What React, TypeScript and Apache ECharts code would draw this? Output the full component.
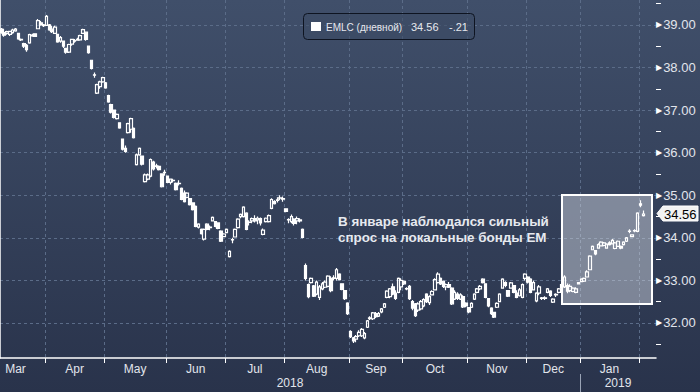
import React, { useEffect, useRef } from "react";
import * as echarts from "echarts";

// [open, close, low, high] per trading day
const mar = [[38.90,38.82,38.79,38.93],[38.82,38.76,38.72,38.91],[38.80,38.84,38.77,38.86],[38.78,38.85,38.74,38.86],[38.82,38.88,38.79,38.91],[38.86,38.90,38.84,38.93],[38.80,38.67,38.65,38.81],[38.66,38.65,38.62,38.68],[38.56,38.50,38.46,38.58],[38.52,38.42,38.37,38.55],[38.58,38.77,38.56,38.79],[38.76,38.74,38.72,38.79],[38.79,38.73,38.72,38.80],[38.91,39.10,38.90,39.14],[39.05,39.00,38.98,39.09],[38.98,39.00,38.95,39.02]];
const apr = [[38.99,39.20,38.98,39.23],[39.00,38.88,38.86,39.02],[38.90,38.84,38.81,38.98],[38.80,38.95,38.79,38.98],[38.78,38.60,38.58,38.79],[38.62,38.70,38.58,38.74],[38.62,38.50,38.46,38.63],[38.45,38.36,38.32,38.46],[38.36,38.54,38.34,38.56],[38.55,38.66,38.51,38.67],[38.62,38.63,38.58,38.67],[38.64,38.66,38.63,38.70],[38.65,38.75,38.63,38.77],[38.80,38.89,38.79,38.91],[38.83,38.66,38.63,38.84],[38.50,38.35,38.32,38.51],[38.17,37.98,37.95,38.18],[37.83,37.82,37.76,37.88],[37.40,37.60,37.38,37.62],[37.55,37.66,37.50,37.69],[37.66,37.76,37.64,37.78]];
const may = [[37.64,37.52,37.50,37.66],[37.34,37.19,37.17,37.36],[37.13,36.95,36.92,37.15],[37.00,36.83,36.80,37.01],[36.80,36.90,36.78,36.92],[36.70,36.58,36.56,36.71],[36.32,36.08,36.05,36.33],[36.10,36.03,36.00,36.17],[36.47,36.68,36.45,36.70],[36.55,36.80,36.47,36.82],[36.57,36.35,36.33,36.59],[35.72,35.95,35.70,35.98],[35.95,36.10,35.93,36.12],[35.92,35.73,35.70,35.93],[35.32,35.48,35.30,35.51],[35.38,35.48,35.35,35.51],[35.45,35.84,35.42,35.86],[35.78,35.62,35.58,35.81],[35.68,35.69,35.63,35.74],[35.68,35.60,35.58,35.70],[35.50,35.20,35.18,35.51],[35.53,35.54,35.46,35.60]];
const jun = [[35.45,35.30,35.28,35.46],[35.30,35.38,35.25,35.39],[35.34,35.35,35.30,35.39],[35.28,35.13,35.11,35.30],[35.27,35.28,35.23,35.35],[35.16,34.90,34.88,35.18],[35.05,34.85,34.83,35.11],[34.95,35.05,34.93,35.07],[34.92,34.78,34.76,34.93],[34.82,34.66,34.64,34.83],[34.74,34.27,34.25,34.76],[34.25,34.32,34.22,34.34],[34.20,34.10,34.08,34.22],[33.97,34.20,33.94,34.22],[34.32,34.20,34.18,34.34],[34.24,34.25,34.18,34.29],[34.40,34.48,34.39,34.50],[34.38,34.27,34.25,34.39],[34.35,34.22,34.20,34.36],[34.16,33.92,33.90,34.18],[34.03,34.09,34.02,34.11]];
const jul = [[34.12,34.20,34.11,34.22],[33.56,33.68,33.54,33.71],[33.95,33.96,33.87,34.00],[34.02,34.20,34.02,34.22],[34.24,34.44,34.22,34.46],[34.50,34.55,34.46,34.57],[34.50,34.72,34.48,34.74],[34.58,34.20,34.18,34.60],[34.36,34.37,34.29,34.41],[34.40,34.45,34.34,34.48],[34.45,34.40,34.36,34.53],[34.42,34.46,34.32,34.50],[34.45,34.35,34.29,34.48],[34.08,34.18,34.06,34.22],[34.38,34.46,34.36,34.48],[34.38,34.52,34.36,34.55],[34.69,34.90,34.67,34.93],[34.85,34.80,34.78,34.88],[34.88,34.89,34.83,34.95],[34.93,34.94,34.88,35.00],[34.91,34.92,34.85,34.97]];
const aug = [[34.68,34.62,34.60,34.69],[34.43,34.42,34.34,34.46],[34.38,34.50,34.34,34.55],[34.44,34.34,34.29,34.46],[34.40,34.45,34.32,34.50],[34.42,34.40,34.36,34.46],[34.20,34.01,33.99,34.22],[33.35,33.05,33.00,33.40],[32.90,32.62,32.58,32.93],[32.95,33.05,32.93,33.07],[32.87,32.63,32.61,32.89],[32.68,32.96,32.65,33.00],[32.60,32.85,32.54,32.89],[32.80,32.92,32.77,32.96],[32.84,32.96,32.82,33.00],[32.86,33.10,32.84,33.12],[33.05,32.76,32.72,33.10],[33.05,33.06,33.00,33.12],[33.05,33.25,33.00,33.29],[33.15,33.02,33.00,33.17],[32.92,32.79,32.77,32.93],[32.76,32.57,32.54,32.77],[32.47,32.22,32.19,32.49]];
const sep = [[31.80,31.68,31.65,31.83],[31.65,31.58,31.53,31.67],[31.62,31.68,31.55,31.72],[31.70,31.78,31.67,31.83],[31.70,31.85,31.67,31.88],[31.65,31.75,31.62,31.79],[31.90,32.05,31.88,32.07],[32.12,32.10,32.07,32.16],[32.10,32.24,32.07,32.26],[32.22,32.15,32.12,32.26],[32.16,32.22,32.14,32.26],[32.26,32.33,32.23,32.35],[32.37,32.45,32.35,32.47],[32.60,32.75,32.58,32.77],[32.62,32.80,32.58,32.82],[32.85,32.68,32.65,32.93],[32.70,32.58,32.54,32.77],[32.72,33.05,32.70,33.07],[32.85,33.00,32.77,33.05]];
const oct = [[32.98,32.92,32.89,33.00],[32.80,32.81,32.77,32.84],[32.86,32.57,32.54,32.89],[32.50,32.35,32.30,32.54],[32.45,32.17,32.14,32.47],[32.30,32.45,32.26,32.49],[32.33,32.50,32.30,32.54],[32.40,32.55,32.37,32.58],[32.68,32.50,32.47,32.70],[32.48,32.62,32.42,32.65],[32.66,32.74,32.65,32.77],[32.78,33.02,32.77,33.05],[32.95,33.15,32.93,33.19],[33.05,32.92,32.89,33.07],[32.98,32.86,32.82,33.00],[32.85,32.90,32.77,32.93],[32.90,32.84,32.82,32.96],[32.82,32.45,32.42,32.84],[32.56,32.72,32.54,32.77],[32.68,32.58,32.54,32.72],[32.56,32.66,32.54,32.70],[32.62,32.38,32.35,32.65],[32.47,32.40,32.37,32.49]];
const nov = [[32.36,32.26,32.23,32.37],[32.37,32.46,32.35,32.49],[32.56,32.68,32.54,32.70],[32.72,32.80,32.70,32.82],[32.80,32.86,32.77,32.89],[33.03,32.95,32.93,33.05],[32.92,32.60,32.58,32.93],[32.57,32.40,32.37,32.58],[32.35,32.22,32.19,32.37],[32.25,32.14,32.12,32.26],[32.37,32.46,32.35,32.49],[32.50,32.68,32.49,32.70],[32.82,33.03,32.82,33.05],[32.95,32.88,32.84,32.98],[32.76,32.63,32.61,32.77],[32.82,32.94,32.82,32.96],[32.88,32.72,32.70,32.89],[32.70,32.60,32.58,32.77],[32.64,32.78,32.62,32.82],[32.60,32.90,32.58,32.93],[33.05,33.15,33.00,33.17]];
const dec = [[33.08,32.96,32.93,33.10],[33.03,32.72,32.70,33.05],[32.78,32.95,32.77,33.00],[32.52,32.70,32.49,32.72],[32.70,32.85,32.65,32.89],[32.58,32.59,32.54,32.61],[32.59,32.58,32.54,32.63],[32.72,32.80,32.70,32.82],[32.75,32.65,32.61,32.77],[32.49,32.56,32.47,32.58],[32.66,32.67,32.61,32.70],[32.72,32.80,32.70,32.82],[32.82,32.90,32.77,32.93],[32.85,33.08,32.82,33.12],[32.88,32.75,32.70,32.93],[32.76,32.86,32.72,32.91],[32.74,32.82,32.72,32.84],[32.72,32.80,32.70,32.84],[32.92,32.95,32.91,32.96]];
const jan = [[32.97,33.03,32.96,33.05],[32.98,33.05,32.96,33.07],[33.08,33.20,33.07,33.24],[33.25,33.57,33.24,33.59],[33.72,33.80,33.71,33.82],[33.70,33.62,33.59,33.71],[33.76,33.84,33.75,33.87],[33.81,33.90,33.80,33.92],[33.82,33.88,33.80,33.90],[33.76,33.85,33.75,33.87],[33.88,33.84,33.82,33.92],[33.86,33.94,33.85,33.97],[33.75,33.88,33.73,33.90],[33.80,33.92,33.80,33.94],[33.80,33.76,33.73,33.82],[33.84,33.90,33.82,33.92],[33.92,34.00,33.90,34.02],[34.15,34.16,34.11,34.20],[34.03,34.07,34.02,34.08],[34.16,34.17,34.13,34.20],[34.15,34.58,34.13,34.60]];
const feb = [[34.80,34.77,34.72,34.88],[34.52,34.56,34.50,34.64]];

// month labels and their trading-day boundaries (index of first trading day)
const monthNames = ["Mar", "Apr", "May", "Jun", "Jul", "Aug", "Sep", "Oct", "Nov", "Dec", "Jan"];
const monthBounds = [-5, 16, 37, 59, 80, 101, 124, 143, 166, 187, 206, 227];
const yearLabels = ["2018", "2019"];
const yLabelValues = [32, 33, 34, 35, 36, 37, 38, 39];
const yHalfTicks = [31.5, 32.5, 33.5, 34.5, 35.5, 36.5, 37.5, 38.5, 39.5];
const seriesName = "EMLC (дневной)";
const noteLines = ["В январе наблюдался сильный", "спрос на локальные бонды EM"];
const totalSlots = 233;
const Y_MIN = 31.178;
const Y_MAX = 39.585;

export default function App() {
  const ref = useRef<HTMLDivElement>(null);

  useEffect(() => {
    if (!ref.current) return;
    const chart = echarts.init(ref.current, null, { renderer: "svg" });
    const candles = [...mar, ...apr, ...may, ...jun, ...jul, ...aug, ...sep, ...oct, ...nov, ...dec, ...jan, ...feb];
    const cats = Array.from({ length: totalSlots }, (_, i) => String(i));
    const starts = monthBounds.slice(1);
    const centers = monthNames.map((_, i) => (monthBounds[i] + monthBounds[i + 1]) / 2);
    const last = candles[candles.length - 1][1];
    const prev = candles[candles.length - 2][1];
    const chg = last - prev;
    const chgText = (chg < 0 ? "-" : "+") + Math.abs(chg).toFixed(2).replace(/^0/, "");

    const font = "'Liberation Sans', Arial, sans-serif";
    const labelColor = "#e2e5ec";
    const gridColor = "#5b6c88";

    const option: any = {
      animation: false,
      backgroundColor: {
        type: "linear", x: 0, y: 0, x2: 0, y2: 1,
        colorStops: [
          { offset: 0, color: "#404f6a" },
          { offset: 1, color: "#29334b" },
        ],
      },
      grid: { left: 0, right: 44, top: -1, bottom: 34 },
      xAxis: [
        {
          type: "category",
          data: cats,
          boundaryGap: true,
          show: false,
        },
        {
          type: "value",
          min: 0,
          max: totalSlots,
          position: "bottom",
          axisLine: { show: true, onZero: false, lineStyle: { color: "#ffffff", width: 1.5 } },
          axisTick: { show: true, customValues: starts, length: 5, lineStyle: { color: "#ffffff", width: 1 } },
          splitLine: { show: true, lineStyle: { color: gridColor, type: [3, 3], width: 1 } },
          axisLabel: {
            customValues: centers,
            formatter: (v: number) => {
              const k = centers.findIndex((c) => Math.abs(c - v) < 1e-6);
              return k >= 0 ? monthNames[k] : "";
            },
            color: labelColor,
            fontSize: 12,
            fontFamily: font,
            margin: 5,
          },
        },
      ],
      yAxis: [
        {
          type: "value",
          position: "right",
          min: Y_MIN,
          max: Y_MAX,
          scale: true,
          axisLine: { show: true, lineStyle: { color: "#ffffff", width: 1.5 } },
          axisTick: { show: true, customValues: yLabelValues, length: 0 },
          splitLine: { show: true, lineStyle: { color: gridColor, type: [3, 3], width: 1 } },
          axisLabel: {
            customValues: yLabelValues,
            margin: 0,
            formatter: (v: number) => `{t|▶}{v|${v.toFixed(2)}}`,
            rich: {
              t: { fontSize: 8, color: "#ffffff", fontFamily: "'DejaVu Sans'", padding: [0, 1, 0, 0] },
              v: { fontSize: 13, color: labelColor, fontFamily: font },
            },
          },
        },
        {
          type: "value",
          position: "right",
          min: Y_MIN,
          max: Y_MAX,
          axisLine: { show: false },
          axisTick: { show: true, customValues: yHalfTicks, length: 5, lineStyle: { color: "#ffffff", width: 1 } },
          splitLine: { show: false },
          axisLabel: { show: false },
        },
      ],
      series: [
        {
          type: "candlestick",
          xAxisIndex: 0,
          yAxisIndex: 0,
          data: candles,
          barWidth: 3,
          z: 5,
          itemStyle: {
            color: "rgba(0,0,0,0)",
            color0: "#ffffff",
            borderColor: "#ffffff",
            borderColor0: "#ffffff",
            borderWidth: 1.2,
          },
        },
      ],
      graphic: [
        {
          type: "rect",
          z: 1,
          shape: { x: 562, y: 195, width: 90, height: 109 },
          style: { fill: "rgba(222,227,236,0.45)", stroke: "#ffffff", lineWidth: 2 },
        },
        {
          type: "rect",
          z: 10,
          shape: { x: 303.5, y: 13.5, width: 171, height: 26, r: 4 },
          style: { fill: "rgba(60,75,100,0.6)", stroke: "#0e1421", lineWidth: 1 },
        },
        {
          type: "rect",
          z: 11,
          shape: { x: 311, y: 22, width: 10, height: 9 },
          style: { fill: "#ffffff" },
        },
        {
          type: "text", z: 11, x: 326, y: 27,
          style: { text: seriesName, fill: "#e6e8ee", font: `10px ${font}`, verticalAlign: "middle" },
        },
        {
          type: "text", z: 11, x: 411, y: 27,
          style: { text: last.toFixed(2), fill: "#e6e8ee", font: `11px ${font}`, verticalAlign: "middle" },
        },
        {
          type: "text", z: 11, x: 449, y: 27,
          style: { text: chgText, fill: "#e6e8ee", font: `11px ${font}`, verticalAlign: "middle" },
        },
        {
          type: "text", z: 11, x: 338, y: 221,
          style: { text: noteLines[0], fill: "#e6e9ef", font: `bold 13.4px ${font}`, verticalAlign: "middle" },
        },
        {
          type: "text", z: 11, x: 338, y: 237,
          style: { text: noteLines[1], fill: "#e6e9ef", font: `bold 13.4px ${font}`, verticalAlign: "middle" },
        },
        {
          type: "polygon", z: 11,
          shape: { points: [[657, 213.5], [663, 206], [698, 206], [698, 221], [663, 221]] },
          style: { fill: "#f2f2f2", stroke: "#ffffff", lineWidth: 1 },
        },
        {
          type: "text", z: 12, x: 664, y: 214,
          style: { text: last.toFixed(2), fill: "#000000", font: `13px ${font}`, verticalAlign: "middle" },
        },
        {
          type: "text", z: 11, x: 290, y: 383,
          style: { text: yearLabels[0], fill: labelColor, font: `12px ${font}`, align: "center", verticalAlign: "middle" },
        },
        {
          type: "text", z: 11, x: 618, y: 383,
          style: { text: yearLabels[1], fill: labelColor, font: `12px ${font}`, align: "center", verticalAlign: "middle" },
        },
        {
          type: "line", z: 11,
          shape: { x1: 580.5, y1: 374, x2: 580.5, y2: 392 },
          style: { stroke: "#9aa4b6", lineWidth: 1 },
        },
      ],
    };

    chart.setOption(option);
    return () => chart.dispose();
  }, []);

  return (
    <div
      ref={ref}
      style={{ position: "fixed", left: 0, top: 0, width: 700, height: 392 }}
    />
  );
}
